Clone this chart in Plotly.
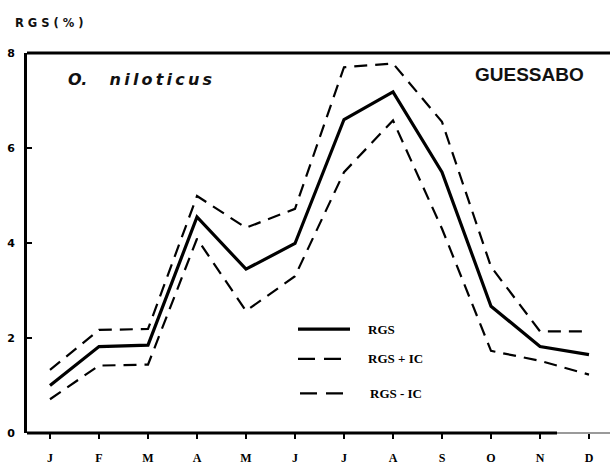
import plotly.graph_objects as go

# Monthly gonadosomatic index (RGS, %) with confidence bounds
month_labels = ["J", "F", "M", "A", "M", "J", "J", "A", "S", "O", "N", "D"]
month_pos = list(range(12))
rgs = [1.00, 1.82, 1.85, 4.55, 3.45, 3.99, 6.60, 7.18, 5.49, 2.67, 1.82, 1.65]
rgs_plus_ic = [1.33, 2.17, 2.19, 4.99, 4.32, 4.72, 7.70, 7.78, 6.55, 3.50, 2.14, 2.14]
rgs_minus_ic = [0.71, 1.42, 1.44, 4.09, 2.57, 3.30, 5.49, 6.58, 4.30, 1.73, 1.52, 1.23]
y_ticks = [0, 2, 4, 6, 8]

W, H = 610, 465
L, R, T, B = 27, 0, 53, 28

fig = go.Figure()
fig.add_trace(go.Scatter(x=month_pos, y=rgs_plus_ic, mode="lines",
                         line=dict(color="black", width=2.2, dash="13px,8px"),
                         name="RGS + IC", showlegend=False))
fig.add_trace(go.Scatter(x=month_pos, y=rgs_minus_ic, mode="lines",
                         line=dict(color="black", width=2.2, dash="13px,8px"),
                         name="RGS - IC", showlegend=False))
fig.add_trace(go.Scatter(x=month_pos, y=rgs, mode="lines",
                         line=dict(color="black", width=3.2),
                         name="RGS", showlegend=False))

pw = W - L - R
ph = H - T - B


def px_x(p):
    return (p - L) / pw


def px_y(p):
    return (H - B - p) / ph


def spaced(s, gap="\u2009"):
    return gap.join(s)


shapes = [
    # top frame line
    dict(type="line", xref="paper", yref="paper", x0=0, x1=1, y0=1, y1=1,
         line=dict(color="black", width=3)),
    # bottom axis line
    dict(type="line", xref="paper", yref="paper", x0=0, x1=px_x(557), y0=0, y1=0,
         line=dict(color="black", width=3)),
    dict(type="line", xref="paper", yref="paper", x0=px_x(557), x1=1, y0=0, y1=0,
         line=dict(color="#9a9a9a", width=2)),
    # legend samples
    dict(type="line", xref="paper", yref="paper", x0=px_x(298), x1=px_x(350),
         y0=px_y(332), y1=px_y(332), line=dict(color="black", width=3.2)),
    dict(type="line", xref="paper", yref="paper", x0=px_x(298), x1=px_x(343),
         y0=px_y(362), y1=px_y(362), line=dict(color="black", width=2.2, dash="17px,9px")),
    dict(type="line", xref="paper", yref="paper", x0=px_x(300), x1=px_x(345),
         y0=px_y(397), y1=px_y(397), line=dict(color="black", width=2.2, dash="17px,9px")),
]

legend_font = dict(family="Liberation Serif", size=13, color="black", weight="bold")
annotations = [
    dict(text="RGS", x=px_x(366), y=px_y(332), xref="paper", yref="paper",
         xanchor="left", yanchor="middle", showarrow=False, font=legend_font),
    dict(text="RGS + IC", x=px_x(366), y=px_y(362), xref="paper", yref="paper",
         xanchor="left", yanchor="middle", showarrow=False, font=legend_font),
    dict(text="RGS - IC", x=px_x(368), y=px_y(397), xref="paper", yref="paper",
         xanchor="left", yanchor="middle", showarrow=False, font=legend_font),
    dict(text="<i>O.    " + spaced("niloticus") + "</i>", x=px_x(66), y=px_y(80),
         xref="paper", yref="paper",
         xanchor="left", yanchor="middle", showarrow=False,
         font=dict(family="DejaVu Sans", size=16, color="#111", weight="bold")),
    dict(text="GUESSABO", x=px_x(529), y=px_y(75), xref="paper", yref="paper",
         xanchor="center", yanchor="middle", showarrow=False,
         font=dict(family="Liberation Sans", size=19, color="#111", weight="bold")),
    dict(text="R G S ( % )", x=px_x(13), y=px_y(23), xref="paper", yref="paper",
         xanchor="left", yanchor="middle", showarrow=False,
         font=dict(family="DejaVu Sans", size=11.5, color="#111", weight="bold")),
]

fig.update_layout(
    width=W, height=H,
    margin=dict(l=L, r=R, t=T, b=B, pad=0),
    paper_bgcolor="white", plot_bgcolor="white",
    shapes=shapes, annotations=annotations,
    xaxis=dict(range=[-23 / 49, 11 + 21 / 49], tickmode="array",
               tickvals=month_pos, ticktext=month_labels,
               showgrid=False, zeroline=False, showline=False,
               ticks="outside", ticklen=5, tickwidth=2, tickcolor="black",
               ticklabelstandoff=9,
               tickfont=dict(family="Liberation Serif", size=12, color="black", weight="bold")),
    yaxis=dict(range=[0, 8], tickmode="array", tickvals=y_ticks,
               showgrid=False, zeroline=False,
               showline=True, linecolor="black", linewidth=3,
               ticks="inside", ticklen=5, tickwidth=2, tickcolor="black",
               ticklabelstandoff=7,
               tickfont=dict(family="DejaVu Sans", size=11, color="black", weight="bold")),
)

fig.write_html("out.html")
